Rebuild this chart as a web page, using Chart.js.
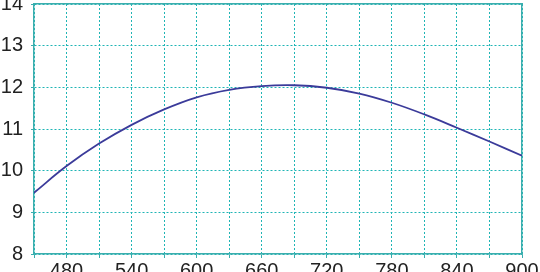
<!DOCTYPE html>
<html>
<head>
<meta charset="utf-8">
<script src="https://cdn.jsdelivr.net/npm/chart.js@4/dist/chart.umd.min.js"></script>
<style>
  html, body { margin: 0; padding: 0; background: #ffffff; overflow: hidden; width: 540px; height: 272px; }
  #wrap { position: absolute; left: 0px; top: -16px; width: 542px; height: 300px; }
</style>
</head>
<body>
<div id="wrap"><canvas id="c" width="542" height="300"></canvas></div>
<script>
// Data
const xValues = [450, 480, 510, 540, 570, 600, 630, 660, 690, 720, 750, 780, 810, 840, 870, 900];
const yValues = [9.47, 10.11, 10.65, 11.10, 11.47, 11.76, 11.94, 12.03, 12.05, 11.99, 11.85, 11.63, 11.35, 11.03, 10.70, 10.36];
const xTickLabels = [480, 540, 600, 660, 720, 780, 840, 900];
const yTickLabels = [8, 9, 10, 11, 12, 13, 14];

const points = xValues.map((x, i) => ({ x: x, y: yValues[i] }));

const teal = '#3aaeae';
const gridTeal = '#1fb5b5';
const fontSpec = { family: '"Liberation Sans", Arial, sans-serif', size: 20 };

new Chart(document.getElementById('c'), {
  type: 'line',
  data: {
    datasets: [{
      data: points,
      borderColor: '#3b3b9a',
      borderWidth: 1.8,
      pointRadius: 0,
      tension: 0.4,
      fill: false
    }]
  },
  options: {
    responsive: false,
    animation: false,
    events: [],
    layout: { padding: { top: 20, right: 20, left: 0, bottom: 0 } },
    plugins: { legend: { display: false }, tooltip: { enabled: false } },
    scales: {
      x: {
        type: 'linear',
        position: 'bottom',
        min: xValues[0],
        max: xValues[xValues.length - 1],
        afterFit: s => { s.height = 30; },
        ticks: {
          stepSize: 30,
          autoSkip: false,
          maxRotation: 0,
          padding: 1,
          color: '#222222',
          font: fontSpec,
          callback: v => xTickLabels.includes(v) ? String(v) : ''
        },
        grid: { color: gridTeal, lineWidth: 1, tickLength: 4, tickColor: teal },
        border: { display: true, color: teal, width: 1.5, dash: [2, 2] }
      },
      y: {
        type: 'linear',
        position: 'left',
        min: yTickLabels[0],
        max: yTickLabels[yTickLabels.length - 1],
        afterFit: s => { s.width = 34; },
        ticks: {
          stepSize: 1,
          padding: 8,
          color: '#222222',
          font: fontSpec,
          callback: v => yTickLabels.includes(v) ? String(v) : ''
        },
        grid: { color: gridTeal, lineWidth: 1, tickLength: 3, tickColor: teal },
        border: { display: true, color: teal, width: 1.5, dash: [2, 2] }
      },
      x2: {
        type: 'linear',
        position: 'top',
        display: true,
        afterFit: s => { s.height = 0; },
        ticks: { display: false },
        grid: { display: false },
        border: { display: true, color: teal, width: 1.5 }
      },
      y2: {
        type: 'linear',
        position: 'right',
        display: true,
        afterFit: s => { s.width = 0; },
        ticks: { display: false },
        grid: { display: false },
        border: { display: true, color: teal, width: 1.5 }
      }
    }
  }
});
</script>
</body>
</html>
